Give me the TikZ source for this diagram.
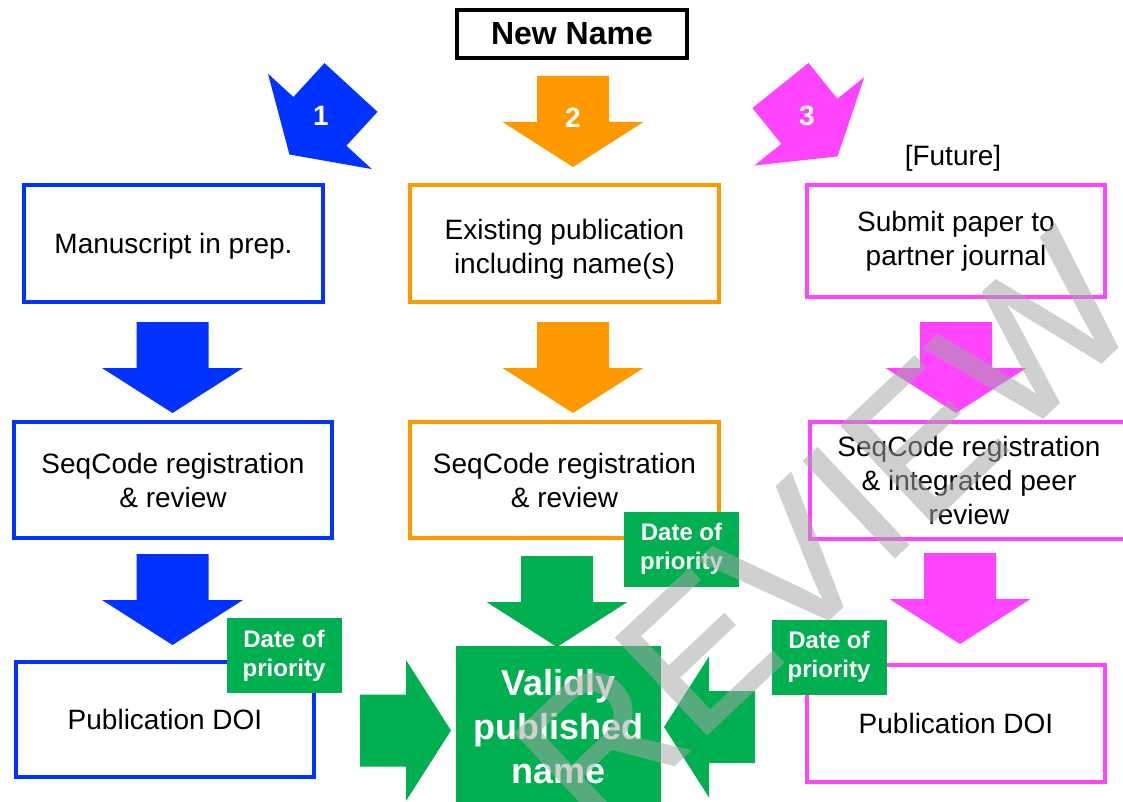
\documentclass[tikz,border=0pt]{standalone}
\usepackage{fontspec}
\setmainfont{Liberation Sans}
\newfontfamily\stampfont[FakeBold=1.2]{Liberation Sans}
\usetikzlibrary{positioning}

\definecolor{seqblue}{RGB}{0,51,255}
\definecolor{seqorange}{RGB}{255,153,0}
\definecolor{seqpink}{RGB}{255,68,255}
\definecolor{seqgreen}{RGB}{0,176,80}

\tikzset{
  pics/bigarrow/.style={code={
    \fill[#1] (0,-36) -- (46,-36) -- (46,-70.5) -- (91,0) -- (46,70.5) -- (46,36) -- (0,36) -- cycle;
  }}
}

\begin{document}
\begin{tikzpicture}[
  x=1pt,y=-1pt,
  box/.style={draw,line width=4pt,fill=white,align=center,inner sep=0pt,
    font=\fontsize{28}{34}\selectfont},
  datebox/.style={fill=seqgreen,text=white,align=center,inner sep=0pt,
    minimum width=115pt,minimum height=75pt,font=\bfseries\fontsize{24}{29}\selectfont},
  numlabel/.style={text=white,font=\bfseries\fontsize{28}{28}\selectfont,inner sep=0pt},
  watermark/.style={rotate=43.3,text=black!35,inner sep=0pt,
    font=\stampfont\fontsize{192}{192}\selectfont}
]
  \clip (0,0) rectangle (1123,802);

  \node[box,draw=black,minimum width=230pt,minimum height=48pt,
    font=\bfseries\fontsize{32}{32}\selectfont] (newname) at (572,34) {New Name};

  % route 1
  \node[box,draw=seqblue,minimum width=299pt,minimum height=117pt] (manuscript) at (173.5,243.5) {\rule{0pt}{30pt}Manuscript in prep.\strut};
  \node[box,draw=seqblue,minimum width=318pt,minimum height=116pt] (seqcode1) at (173,480) {SeqCode registration\\\& review};
  \node[box,draw=seqblue,minimum width=298pt,minimum height=115pt] (doi1) at (165,719.5) {Publication DOI};

  % route 2
  \node[box,draw=seqorange,minimum width=309pt,minimum height=117pt] (existing) at (564.5,243.5) {\rule{0pt}{36pt}Existing publication\\including name(s)\strut};
  \node[box,draw=seqorange,minimum width=309pt,minimum height=116pt] (seqcode2) at (564.5,480) {SeqCode registration\\\& review};

  % route 3
  \node[font=\fontsize{28}{34}\selectfont,inner sep=0pt] (future) at (953,158) {[Future]};
  \node[box,draw=seqpink,minimum width=298pt,minimum height=112pt] (submit) at (956,241) {Submit paper to\\partner journal};
  \node[box,draw=seqpink,minimum width=318pt,minimum height=117pt] (seqcode3) at (969,480.5) {SeqCode registration\\\& integrated peer\\review};
  \node[box,draw=seqpink,minimum width=298pt,minimum height=117pt] (doi3) at (956,723.5) {Publication DOI};

  \node[fill=seqgreen,text=white,align=center,inner sep=0pt,minimum width=205pt,minimum height=163pt,
    font=\bfseries\fontsize{36}{44}\selectfont] (valid) at (558.5,727) {Validly\\published\\name};

  \node[datebox] (priority1) at (284,655.5) {Date of\\priority};
  \node[datebox] (priority2) at (681.5,549) {Date of\\priority};
  \node[datebox] (priority3) at (829,657) {Date of\\priority};

  % block arrows
  \pic[rotate=227.4] at (351,87.5) {bigarrow=seqblue};
  \pic[rotate=-90] at (573,76) {bigarrow=seqorange};
  \pic[rotate=-51.2] at (780.5,85.5) {bigarrow=seqpink};
  \node[numlabel] (num1) at (321,116) {1};
  \node[numlabel] (num2) at (573,118) {2};
  \node[numlabel] (num3) at (807,116) {3};

  \pic[rotate=-90] at (172.5,322) {bigarrow=seqblue};
  \pic[rotate=-90] at (573,322) {bigarrow=seqorange};
  \pic[rotate=-90] at (956,322) {bigarrow=seqpink};

  \pic[rotate=-90] at (172.5,554) {bigarrow=seqblue};
  \pic[rotate=-90] at (557,556) {bigarrow=seqgreen};
  \pic[rotate=-90] at (960,553) {bigarrow=seqpink};

  \pic at (360,730.5) {bigarrow=seqgreen};
  \pic[rotate=180] at (755,727) {bigarrow=seqgreen};

  \begin{scope}[transparency group,opacity=0.53]
    \node[watermark] (stamp) at (825,532) {REVIEW};
  \end{scope}
\end{tikzpicture}
\end{document}
